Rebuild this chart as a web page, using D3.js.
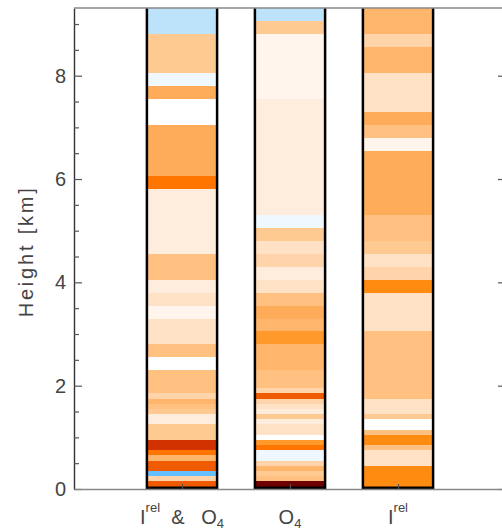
<!DOCTYPE html>
<html><head><meta charset="utf-8">
<script src="https://cdn.jsdelivr.net/npm/d3@7"></script>
<style>
html,body{margin:0;padding:0;background:#fff;}
svg{display:block;font-family:"Liberation Sans",Arial,sans-serif;}
</style></head><body>
<svg id="chart" width="502" height="528"></svg>
<script>
// ---- data ----
const categories = ["I^rel  &   O_4", "O_4", "I^rel"];
const yTicks = [0, 2, 4, 6, 8];
const yMinorTicks = [0.5, 1, 1.5, 2.5, 3, 3.5, 4.5, 5, 5.5, 6.5, 7, 7.5, 8.5, 9];
const yMax = 9.31;

// upper edge (km) of each layer; each layer starts at the previous edge (first at 0)
const topsIrelO4 = [0.15,0.25,0.35,0.55,0.65,0.75,0.95,1.25,1.45,1.55,1.65,1.75,1.85,2.3,2.55,2.8,3.3,3.55,3.8,4.05,4.55,5.8,6.05,7.05,7.55,7.8,8.05,8.8,9.31];
const levelsIrelO4 = [12,4,-3,12,7,11,13,5,2,5,6,7,4,6,0,6,3,1,3,2,6,2,11,8,0,8,-1,5,-2];

const topsO4 = [0.15,0.25,0.35,0.45,0.55,0.75,0.85,0.95,1.05,1.25,1.35,1.45,1.55,1.65,1.75,1.85,1.95,2.3,2.8,3.05,3.3,3.55,3.8,4.05,4.3,4.55,4.8,5.05,5.3,7.55,8.8,9.05,9.31];
const levelsO4 = [14,6,5,7,4,-1,11,9,0,3,2,5,2,3,4,12,4,6,7,9,7,8,6,3,2,4,3,5,-1,2,1,5,-2];

const topsIrel = [0.45,0.75,0.85,1.05,1.15,1.35,1.45,1.75,3.05,3.8,4.05,4.3,4.55,4.8,5.3,6.55,6.8,7.05,7.3,8.05,8.55,8.8,9.31];
const levelsIrel = [10,3,6,10,6,0,5,3,6,3,10,4,3,5,6,8,1,6,8,3,7,4,7];

// colour classes
const levelKeys = [-3,-2,-1,0,1,2,3,4,5,6,7,8,9,10,11,12,13,14];
const palette = ["#66c0ff","#bde3fb","#f0f8ff","#ffffff","#fff5ec","#feecdc","#ffe2c6","#ffd4aa","#ffc992","#ffc080","#ffb66c","#ffac5a","#ff9a2a","#ff8c10","#ff7500","#f05a00","#d23200","#6e0000"];

// ---- chart ----
const svg = d3.select("#chart");
const y = d3.scaleLinear().domain([0, yMax]).range([489, 8]);
const x = d3.scaleLinear().domain([0, 4]).range([74, 506]);
const color = d3.scaleOrdinal().domain(levelKeys).range(palette);
const halfW = (x(1) - x(0)) * 0.325;

const columns = [
  {tops: topsIrelO4, levels: levelsIrelO4},
  {tops: topsO4, levels: levelsO4},
  {tops: topsIrel, levels: levelsIrel}
];

columns.forEach((c, i) => {
  const cx = x(i + 1);
  const segs = c.tops.map((t, j) => ({lo: j ? c.tops[j-1] : 0, hi: t, lev: c.levels[j]}));
  const g = svg.append("g");
  g.selectAll("rect").data(segs).join("rect")
    .attr("x", cx - halfW).attr("width", 2 * halfW)
    .attr("y", d => y(d.hi)).attr("height", d => y(d.lo) - y(d.hi))
    .attr("fill", d => color(d.lev))
    .attr("shape-rendering", "crispEdges");
  const yb = y(0) - 1.2;
  g.append("path")
    .attr("d", `M${cx - halfW},${y(yMax)}V${yb}H${cx + halfW}V${y(yMax)}`)
    .attr("fill", "none").attr("stroke", "#000").attr("stroke-width", 2.5);
});

// left axis
const gl = svg.append("g").attr("transform", `translate(${x(0)},0)`);
gl.call(d3.axisLeft(y).tickValues(yTicks).tickSizeInner(-8).tickSizeOuter(0).tickPadding(8).tickFormat(d3.format("d")));
gl.select(".domain").attr("stroke", "#333").attr("stroke-width", 1.4);
gl.selectAll(".tick line").attr("stroke", "#555").attr("stroke-width", 1.2);
gl.selectAll(".tick text").attr("font-size", 20).attr("fill", "#444")
  .attr("font-family", "Liberation Sans, Arial, sans-serif");
const glm = svg.append("g").attr("transform", `translate(${x(0)},0)`);
glm.call(d3.axisLeft(y).tickValues(yMinorTicks).tickSizeInner(-5).tickSizeOuter(0).tickFormat(""));
glm.select(".domain").remove();
glm.selectAll(".tick line").attr("stroke", "#555").attr("stroke-width", 1.2);

// right axis (major ticks only)
const gr = svg.append("g").attr("transform", `translate(${x(4)},0)`);
gr.call(d3.axisRight(y).tickValues(yTicks).tickSizeInner(-8).tickSizeOuter(0).tickFormat(""));
gr.select(".domain").attr("stroke", "#555");
gr.selectAll(".tick line").attr("stroke", "#555").attr("stroke-width", 1.2);

// top line
svg.append("line").attr("x1", x(0)).attr("x2", x(4)).attr("y1", y(yMax)).attr("y2", y(yMax))
  .attr("stroke", "#888").attr("stroke-width", 1.4);

// bottom axis
const gb = svg.append("g").attr("transform", `translate(0,${y(0)})`);
gb.call(d3.axisBottom(x).tickValues([1, 2, 3]).tickSizeInner(-5).tickSizeOuter(0).tickFormat(""));
gb.select(".domain").attr("stroke", "#888").attr("stroke-width", 1.6);
gb.selectAll(".tick line").attr("stroke", "#555").attr("stroke-width", 1.2);

// category labels with super/subscripts
categories.forEach((lab, i) => {
  const t = svg.append("text")
    .attr("x", x(i + 1)).attr("y", 523.5)
    .attr("text-anchor", "middle")
    .attr("font-size", 20).attr("fill", "#444")
    .style("white-space", "pre");
  const parts = lab.split(/(\^\w+|_\w+)/).filter(p => p.length);
  let off = 0;
  parts.forEach(p => {
    let target = 0, size = 20, txt = p;
    if (p[0] === "^") { target = -11.5; size = 13; txt = p.slice(1); }
    else if (p[0] === "_") { target = 4; size = 13; txt = p.slice(1); }
    t.append("tspan").attr("dy", target - off).attr("font-size", size).text(txt);
    off = target;
  });
});

// y title
svg.append("text")
  .attr("transform", `translate(33,${y(4.6)}) rotate(-90)`)
  .attr("text-anchor", "middle")
  .attr("font-size", 20).attr("fill", "#444")
  .attr("letter-spacing", 2.8)
  .style("white-space", "pre")
  .text("Height [km]");
</script>
</body></html>
